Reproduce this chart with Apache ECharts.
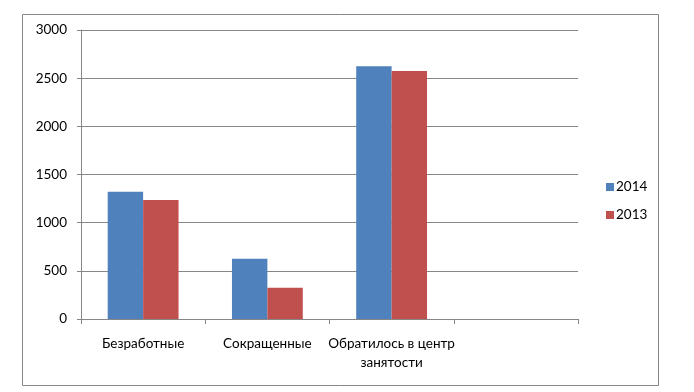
<!DOCTYPE html>
<html><head><meta charset="utf-8">
<script src="https://cdn.jsdelivr.net/npm/echarts@6/dist/echarts.min.js"></script>
<style>html,body{margin:0;padding:0;background:#fff}#c{width:694px;height:392px}</style>
</head><body><div id="c"></div>
<script>
const categories = ['Безработные', 'Сокращенные', 'Обратилось в центр\nзанятости', ''];
const series2014 = [1320, 625, 2625, null];
const series2013 = [1235, 325, 2575, null];
const seriesNames = ['2014', '2013'];
const yTicks = {min: 0, max: 3000, interval: 500};

const chart = echarts.init(document.getElementById('c'), null, {renderer: 'canvas'});
const font = 'Lato, "Open Sans", sans-serif';
chart.setOption({
  animation: false,
  textStyle: {fontFamily: font},
  graphic: [{type: 'rect', shape: {x: 22.5, y: 14.5, width: 636, height: 371}, style: {fill: 'none', stroke: '#868686', lineWidth: 1}, z: -1}],
  grid: {left: 81, right: 116, top: 30, bottom: 73},
  legend: {
    orient: 'vertical', left: 601, top: 175, itemWidth: 8, itemHeight: 8, itemGap: 14,
    icon: 'rect', textStyle: {fontSize: 13.5, color: '#000', fontFamily: font, padding: [0,0,0,-3]},
    data: seriesNames
  },
  xAxis: {
    type: 'category', data: categories,
    axisLine: {lineStyle: {color: '#868686'}},
    axisTick: {show: true, length: 5, lineStyle: {color: '#868686'}},
    axisLabel: {color: '#000', fontSize: 13.5, margin: 15, lineHeight: 19, interval: 0}
  },
  yAxis: {
    type: 'value', min: yTicks.min, max: yTicks.max, interval: yTicks.interval,
    axisLine: {show: true, lineStyle: {color: '#868686'}},
    axisTick: {show: true, length: 4, lineStyle: {color: '#868686'}},
    axisLabel: {color: '#000', fontSize: 13.5, margin: 14, formatter: v => String(v)},
    splitLine: {lineStyle: {color: '#868686'}}
  },
  series: [
    {name: seriesNames[0], type: 'bar', data: series2014, itemStyle: {color: '#4F81BD'}, barGap: '0%', barCategoryGap: '43%'},
    {name: seriesNames[1], type: 'bar', data: series2013, itemStyle: {color: '#C0504D'}, barGap: '0%', barCategoryGap: '43%'}
  ]
});
</script></body></html>
